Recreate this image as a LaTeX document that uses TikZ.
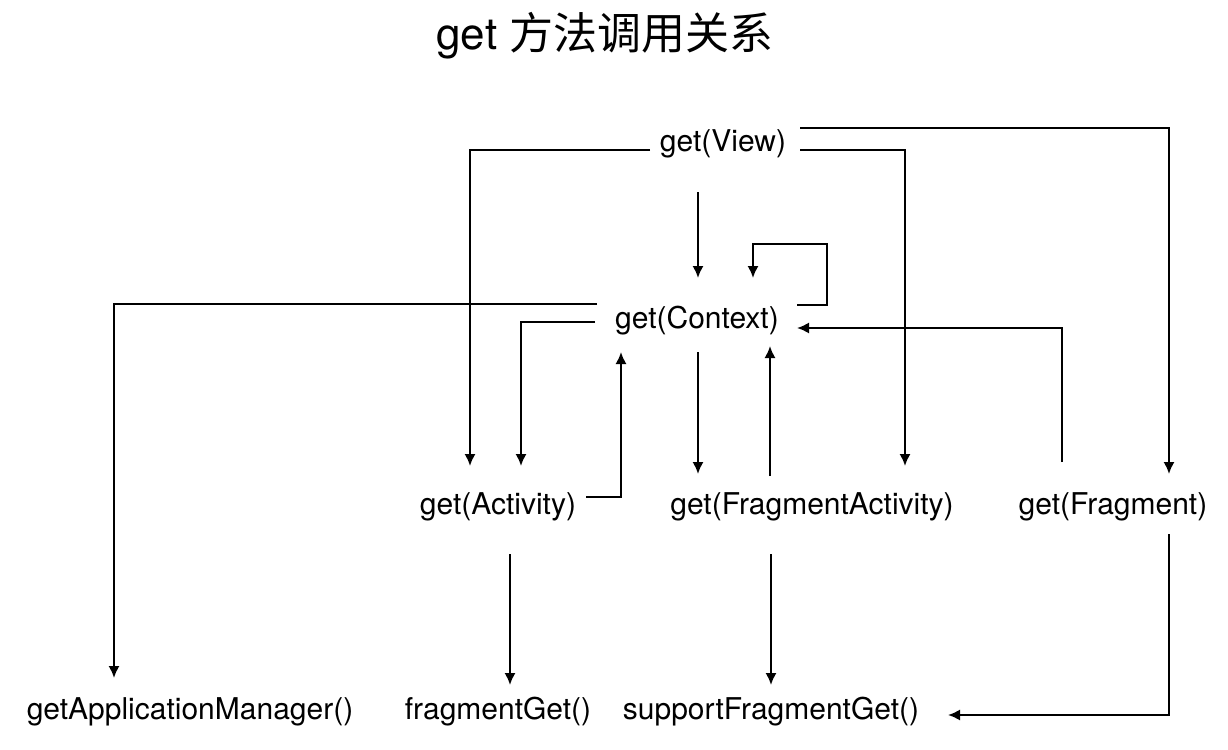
\documentclass[tikz,border=0pt]{standalone}
\usepackage{fontspec}
\setmainfont{TeX Gyre Heros}
\newfontfamily\cjk{Noto Sans CJK SC}
\usetikzlibrary{arrows.meta, calc}

\tikzset{
  fn/.style={font=\fontsize{15pt}{18pt}\selectfont, inner sep=0pt}, % the method names
  call/.style={line width=1.1pt, ->}
}

\begin{document}
\begin{tikzpicture}[x=0.5pt, y=-0.5pt, >={Latex[length=6pt,width=5.6pt]}]
            \useasboundingbox (0,0) rectangle (1228,750);
            \node[font=\fontsize{22pt}{26pt}\selectfont] (title) at (605,36) {get {\cjk 方法调用关系}};

            % the method names
            \node[fn] (view) at (723,144) {get(View)};
            \node[fn] (ctx) at (697,321) {get(Context)};
            \node[fn] (act) at (498,507) {get(Activity)};
            \node[fn] (fact) at (812,507) {get(FragmentActivity)};
            \node[fn] (frag) at (1113,507) {get(Fragment)};
            \node[fn] (appm) at (190,712) {getApplicationManager()};
            \node[fn] (fget) at (498,712) {fragmentGet()};
            \node[fn] (sfget) at (771,712) {supportFragmentGet()};

            % calls out of get(View)
            \draw[call] ($(view)+(-73,6)$) -| ($(act)+(-28,-41)$);
            \draw[call] ($(view)+(77,6)$) -| ($(fact)+(93,-41)$);
            \draw[call] ($(view)+(77,-16)$) -| ($(frag)+(56,-33)$);
            \draw[call] ($(view)+(-25,48)$) -- ($(ctx)+(1,-43)$);

            % calls out of get(Context)
            \draw[call] ($(ctx)+(100,-16)$) -| ++(30,-61) -| ($(ctx)+(56,-43)$); % back to itself
            \draw[call] ($(ctx)+(-100,-17)$) -| ($(appm)+(-76,-34)$);
            \draw[call] ($(ctx)+(-102,1)$) -| ($(act)+(23,-41)$);
            \draw[call] ($(ctx)+(1,31)$) -- ($(fact)+(-114,-33)$);

            % calls back up to get(Context)
            \draw[call] ($(act)+(88,-10)$) -| ($(ctx)+(-76,31)$);
            \draw[call] ($(fact)+(-42,-31)$) -- ($(ctx)+(73,25)$);
            \draw[call] ($(frag)+(-51,-45)$) |- ($(ctx)+(100,7)$);

            % calls down to the last row
            \draw[call] ($(act)+(12,47)$) -- ($(fget)+(12,-27)$);
            \draw[call] ($(fact)+(-41,47)$) -- ($(sfget)+(0,-27)$);
            \draw[call] ($(frag)+(56,27)$) |- ($(sfget)+(177,3)$);
      \end{tikzpicture}
\end{document}
